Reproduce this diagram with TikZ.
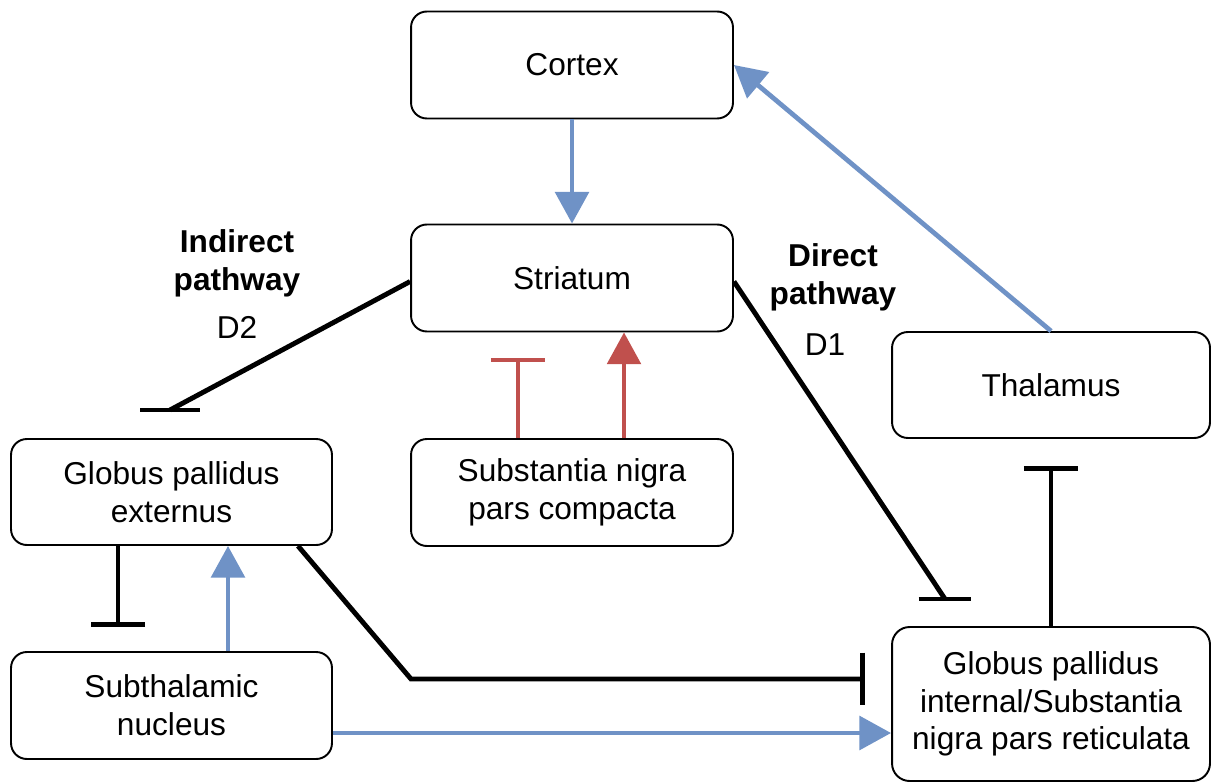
\documentclass[tikz,border=0pt]{standalone}
\usepackage{fontspec}
\setmainfont{Liberation Sans}
\usetikzlibrary{arrows.meta,calc}
\definecolor{bblue}{RGB}{111,146,198}
\definecolor{rred}{RGB}{192,80,77}
\begin{document}
\begin{tikzpicture}[x=0.02cm,y=-0.02cm,
  box/.style={draw=black,line width=1.1pt,rounded corners=9pt,align=center,inner sep=0pt,
    font=\fontsize{18}{21.5}\selectfont},
  exc/.style={draw=bblue,line width=2.7pt,-{Triangle[width=19pt,length=18pt]}},
  inh/.style={draw=black,line width=2.8pt,-{Bar[width=31pt]}},
  inhline/.style={draw=black,line width=2.8pt},
  lbl/.style={align=center,inner sep=0pt,font=\fontsize{18}{21.5}\selectfont},
]
\useasboundingbox (0,0) rectangle (1212,783);

% boxes
\node[box,minimum width=6.44cm,minimum height=2.14cm] (cortex) at (572,65) {Cortex};
\node[box,minimum width=6.44cm,minimum height=2.14cm] (striatum) at (572,278) {Striatum};
\node[box,minimum width=6.44cm,minimum height=2.14cm] (snc) at (572,492.5) {Substantia nigra\\pars compacta};
\node[box,minimum width=6.36cm,minimum height=2.12cm] (thal) at (1051,385) {Thalamus};
\node[box,minimum width=6.42cm,minimum height=2.12cm] (gpe) at (171.5,492) {Globus pallidus\\externus};
\node[box,minimum width=6.42cm,minimum height=2.14cm] (stn) at (171.5,705.5) {Subthalamic\\nucleus};
\node[box,minimum width=6.36cm,minimum height=3.08cm,rounded corners=10pt] (gpi) at (1051,704) {Globus pallidus\\internal/Substantia\\nigra pars reticulata};

% labels
\node[lbl] (indl) at (237,263) {\textbf{Indirect}\\\textbf{pathway}};
\node[lbl] (d2) at (237,327) {D2};
\node[lbl] (dirl) at (833,277) {\textbf{Direct}\\\textbf{pathway}};
\node[lbl] (d1) at (825,345) {D1};

% helper coordinates
\coordinate (tgpe) at (170,410);
\coordinate (tgpi) at (945,599);
\coordinate (tsnc) at (518,358);
\coordinate (asnc) at (624,0);
\coordinate (tthal) at (1051,466);
\coordinate (tstn) at (118,627);
\coordinate (astn) at (228,0);
\coordinate (gpeout) at (298,0);
\coordinate (bend) at (411,679);
\coordinate (tgpi2) at (865,679);
\coordinate (stnrow) at (0,733);

% connectors
\draw[exc] (cortex.south) -- (striatum.north);
\draw[exc] (thal.north) -- (cortex.east);
\draw[inhline] ([yshift=-2pt]striatum.west) -- (tgpe);
\draw[inhline] ([xshift=-17pt]tgpe) -- ([xshift=17pt]tgpe);
\draw[inhline] ([yshift=-2pt]striatum.east) -- (tgpi);
\draw[inhline] ([xshift=-15pt]tgpi) -- ([xshift=15pt]tgpi);
\draw[inh,draw=rred,line width=2.4pt] (snc.north -| tsnc) -- (tsnc);
\draw[exc,draw=rred,line width=2.4pt] (snc.north -| asnc) -- (striatum.south -| asnc);
\draw[inh] (gpi.north) -- (tthal);
\draw[inh] (gpe.south -| tstn) -- (tstn);
\draw[exc] (stn.north -| astn) -- (gpe.south -| astn);
\draw[inh,-{Bar[width=30pt]}] (gpe.south -| gpeout) -- (bend) -- (tgpi2);
\draw[exc] (stnrow -| stn.east) -- (stnrow -| gpi.west);
\end{tikzpicture}
\end{document}
